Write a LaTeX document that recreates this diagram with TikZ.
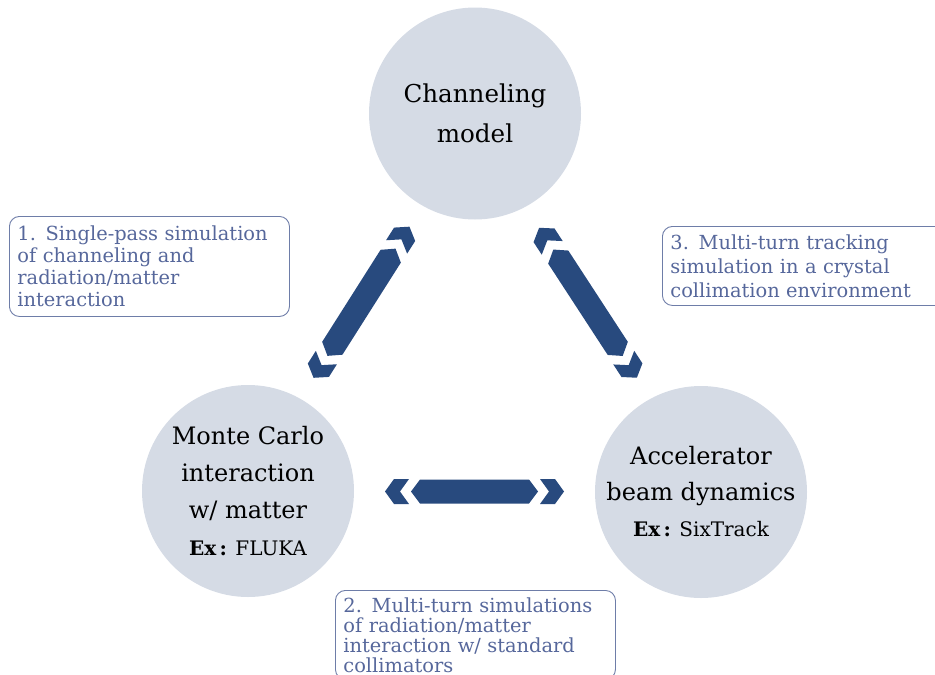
\documentclass[tikz,border=0pt]{standalone}
\usepackage{fontspec}
\setmainfont{DejaVu Serif}
\usetikzlibrary{calc}
\definecolor{discfill}{HTML}{D5DBE5}
\definecolor{arrowblue}{HTML}{284A7E}
\definecolor{notetext}{HTML}{56679B}
\definecolor{noteline}{HTML}{6E7DA8}
\tikzset{
  disc/.style={circle, fill=discfill, minimum size=212pt, inner sep=0pt,
    align=center, text=black},
  note/.style={draw=noteline, line width=0.9pt, rounded corners=10pt,
    anchor=north west, align=left, text=notetext, inner xsep=8pt,
    font=\fontsize{19.4}{22}\selectfont},
  % two-headed chevron arrow, drawn along the local x axis
  pics/dualarrow/.style={code={
    \fill[arrowblue] (-89.5,0) -- (-80.5,12.5) -- (-65.5,12.5) -- (-74.5,0)
      -- (-65.5,-12.5) -- (-80.5,-12.5) -- cycle;
    \fill[arrowblue] (-63.5,0) -- (-54.5,12) -- (54.5,12) -- (63.5,0)
      -- (54.5,-12) -- (-54.5,-12) -- cycle;
    \fill[arrowblue] (89.5,0) -- (80.5,12.5) -- (65.5,12.5) -- (74.5,0)
      -- (65.5,-12.5) -- (80.5,-12.5) -- cycle;
  }}
}
\begin{document}
\begin{tikzpicture}[x=1pt, y=-1pt]
\useasboundingbox (0,0) rectangle (935,675);
\clip (0,0) rectangle (935,675);

% the three models
\node[disc, font=\fontsize{24.6}{40}\selectfont] (chan) at (475,113.5)
  {Channeling\\model};
\node[disc, font=\fontsize{24}{37}\selectfont] (mc) at (248,491)
  {Monte Carlo\\interaction\\w/ matter\\
   \fontsize{20}{36}\selectfont\textbf{Ex\,:} FLUKA};
\node[disc, font=\fontsize{24}{36}\selectfont] (acc) at (701,492)
  {Accelerator\\beam dynamics\\
   \fontsize{20}{37}\selectfont\textbf{Ex\,:} SixTrack};

% couplings between the models
\pic[rotate=57.6] at ($(mc)!0.5!(chan)$) {dualarrow};
\pic[rotate=-56.9] at ($(chan)!0.5!(acc)$) {dualarrow};
\pic at ($(mc)!0.5!(acc)$) {dualarrow};

% descriptions of each coupling
\node[note, text width=264pt, inner ysep=9.5pt] (n1) at (9,216)
  {1. Single-pass simulation\\of channeling and\\radiation/matter\\interaction};
\node[note, text width=264pt, inner ysep=7pt,
      font=\fontsize{19.4}{20}\selectfont] (n2) at (335,590)
  {2. Multi-turn simulations\\of radiation/matter\\interaction w/ standard\\collimators};
\node[note, text width=274pt, inner ysep=8pt,
      font=\fontsize{19.4}{24}\selectfont] (n3) at (662,226)
  {3. Multi-turn tracking\\simulation in a crystal\\collimation environment};
\end{tikzpicture}
\end{document}
